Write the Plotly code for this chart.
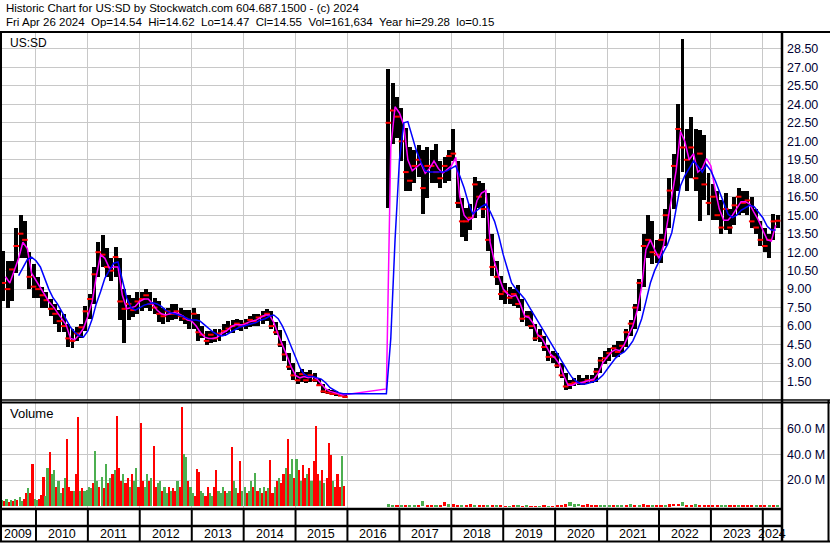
import pandas as pd
import plotly.graph_objects as go

# ---------------- data (monthly, Apr 2009 .. Apr 2024) ----------------
months = pd.date_range("2009-04-01", "2024-04-01", freq="MS")
N = None
high = [
    12.0, 12.1, 11.3, 11.3, 14.0, 15.0, 14.5, 12.0, 11.0,
    10.0, 9.2, 8.8, 8.2, 7.8, 7.3, 7.0, 6.2, 5.8, 5.9, 6.2, 7.6,
    8.6, 10.8, 12.8, 13.4, 12.3, 11.5, 12.4, 11.5, 9.0, 8.5, 8.3, 8.8,
    8.8, 9.0, 8.8, 8.3, 8.0, 7.5, 7.5, 7.8, 7.8, 7.5, 7.3, 7.3,
    7.5, 7.0, 6.0, 5.6, 5.6, 5.8, 5.8, 6.2, 6.4, 6.5, 6.6, 6.5,
    6.6, 6.8, 7.0, 7.0, 7.2, 7.4, 7.2, 6.3, 5.7, 4.8, 3.8, 3.0,
    2.3, 2.5, 2.3, 2.4, 2.2, 1.7, 1.3, 0.9, 0.8, 0.7, 0.6, 0.45,
    N, N, N, N, N, N, N, N, N, 26.9, 25.7, 24.6,
    23.7, 22.1, 20.5, 20.3, 20.7, 20.3, 20.5, 20.3, 20.8, 19.4, 19.7, 20.3,
    22.0, 19.4, 16.4, 15.6, 15.9, 18.1, 17.8, 17.6, 16.8, 13.5, 11.3, 10.1,
    9.5, 9.2, 9.0, 9.3, 8.2, 7.2, 7.2, 6.2, 5.8, 5.2, 4.5, 4.0,
    3.8, 3.0, 2.2, 1.6, 1.8, 2.0, 1.8, 2.0, 2.0, 2.6, 3.5, 4.0,
    4.2, 4.5, 4.8, 4.8, 5.8, 6.5, 7.8, 9.8, 13.5, 15.0, 14.5, 13.0,
    13.5, 15.5, 18.0, 20.0, 24.0, 29.3, 22.0, 23.0, 22.0, 21.9, 21.5, 18.4,
    17.5, 17.0, 16.2, 16.8, 15.5, 16.5, 17.2, 17.0, 17.0, 16.5, 15.5, 14.5,
    14.0, 13.5, 15.1, 15.0,
]
low = [
    8.5, 8.0, 7.5, 8.0, 10.3, 11.5, 11.5, 9.0, 8.3,
    8.3, 7.5, 7.5, 6.8, 6.2, 5.5, 5.5, 4.3, 4.2, 4.8, 5.0, 5.6,
    6.6, 7.8, 10.0, 10.8, 10.0, 9.7, 10.0, 6.5, 4.6, 6.5, 6.7, 7.0,
    7.2, 7.5, 7.2, 7.0, 6.3, 6.2, 6.3, 6.5, 6.6, 6.4, 6.2, 5.8,
    5.8, 4.8, 5.0, 4.5, 4.6, 4.7, 4.8, 5.2, 5.4, 5.4, 5.7, 5.6,
    5.8, 5.9, 6.0, 6.0, 6.2, 6.4, 5.8, 5.3, 4.3, 3.2, 2.4, 1.6,
    1.3, 1.5, 1.4, 1.5, 1.5, 1.1, 0.6, 0.5, 0.4, 0.35, 0.3, 0.2,
    N, N, N, N, N, N, N, N, N, 15.6, 20.8, 21.3,
    19.4, 17.0, 17.0, 17.6, 18.1, 15.1, 16.4, 17.6, 17.6, 17.2, 17.6, 17.8,
    19.4, 15.6, 13.2, 12.9, 13.8, 14.8, 15.6, 14.8, 12.1, 10.1, 9.3, 8.1,
    7.8, 7.8, 7.6, 7.5, 6.3, 6.0, 5.8, 4.8, 4.7, 4.0, 3.2, 3.0,
    2.6, 1.8, 0.8, 0.9, 1.1, 1.2, 1.2, 1.3, 1.4, 1.5, 2.2, 2.9,
    3.2, 3.5, 3.5, 3.8, 4.3, 5.2, 5.8, 7.2, 9.2, 11.5, 11.0, 11.1,
    11.1, 12.5, 14.0, 15.5, 17.0, 18.5, 17.0, 18.0, 17.0, 14.5, 16.2, 15.0,
    14.6, 14.6, 13.5, 13.8, 13.5, 14.2, 15.0, 15.2, 15.0, 14.0, 13.5, 12.5,
    12.0, 11.5, 13.0, 14.0,
]
close = [
    10.5, 9.5, 9.0, 10.6, 12.5, 13.5, 13.0, 10.0, 9.2,
    9.0, 8.5, 8.1, 7.4, 7.0, 6.4, 6.0, 5.0, 4.8, 5.4, 5.9, 7.2,
    8.2, 10.2, 12.0, 11.8, 10.8, 10.5, 11.6, 8.0, 7.4, 7.8, 7.3, 8.0,
    8.2, 8.5, 7.8, 7.5, 7.0, 6.8, 7.2, 7.0, 7.2, 6.8, 6.6, 6.5,
    7.0, 5.5, 5.3, 4.8, 5.3, 5.0, 5.4, 5.6, 5.8, 6.0, 6.2, 6.0,
    6.2, 6.5, 6.4, 6.7, 6.8, 7.0, 6.0, 5.5, 4.5, 3.7, 2.7, 2.0,
    1.6, 2.1, 1.6, 2.0, 1.6, 1.2, 0.7, 0.6, 0.5, 0.5, 0.35, 0.25,
    N, N, N, N, N, N, N, N, N, 22.5, 23.5, 23.0,
    21.0, 18.5, 17.8, 19.0, 19.5, 17.2, 19.0, 19.0, 18.5, 18.0, 19.0, 19.8,
    20.0, 16.0, 14.5, 14.5, 14.8, 17.5, 16.5, 15.5, 13.0, 10.8, 10.0, 8.6,
    8.8, 8.3, 8.6, 7.8, 6.6, 6.8, 6.0, 5.0, 5.2, 4.3, 3.5, 3.5,
    2.8, 2.0, 1.1, 1.3, 1.4, 1.4, 1.4, 1.6, 1.6, 2.3, 3.2, 3.4,
    3.8, 4.2, 3.9, 4.4, 5.5, 6.2, 7.5, 9.5, 12.5, 13.0, 12.0, 11.8,
    13.0, 15.0, 17.0, 19.0, 22.0, 20.5, 19.5, 20.5, 18.0, 20.0, 17.5, 16.0,
    16.5, 15.0, 14.0, 15.5, 14.0, 15.8, 16.5, 16.0, 16.2, 14.5, 14.0, 13.0,
    12.5, 13.0, 14.5, 14.55,
]
ma_short = [
    N, N, 10.0, 9.5, 10.5, 11.5, 12.8, 12.3, 10.3,
    9.7, 9.2, 8.6, 8.0, 7.6, 7.1, 6.6, 6.1, 5.0, 4.9, 5.3, 5.8,
    6.8, 8.0, 10.0, 11.8, 11.5, 10.7, 10.8, 10.8, 8.5, 7.4, 7.5, 7.6,
    8.0, 8.2, 8.2, 7.8, 7.3, 7.0, 6.9, 7.0, 7.1, 7.0, 6.8, 6.5,
    6.4, 6.0, 5.5, 5.1, 5.0, 5.0, 5.1, 5.4, 5.6, 5.9, 6.1, 6.1,
    6.1, 6.3, 6.4, 6.5, 6.7, 6.9, 6.9, 6.3, 5.3, 4.5, 3.6, 2.7,
    2.0, 1.8, 1.9, 1.8, 1.9, 1.7, 1.3, 0.9, 0.7, 0.6, 0.5, 0.4,
    N, N, N, N, N, N, N, N, N, 0.9, 20.5, 23.8,
    23.3, 22.3, 19.5, 18.6, 18.9, 19.2, 18.4, 18.8, 19.4, 18.8, 18.4, 18.7,
    19.0, 19.7, 16.5, 15.0, 14.6, 14.8, 16.2, 16.8, 17.0, 12.8, 11.2, 10.0,
    9.0, 8.6, 8.4, 8.5, 7.8, 6.8, 6.7, 6.2, 5.3, 5.0, 4.3, 3.7,
    3.4, 2.9, 2.0, 1.2, 1.2, 1.4, 1.4, 1.5, 1.6, 1.7, 2.2, 3.0,
    3.5, 3.9, 4.1, 4.0, 4.5, 5.3, 6.0, 7.3, 9.2, 12.2, 13.0, 12.2,
    11.5, 12.5, 14.5, 16.8, 18.6, 21.8, 21.0, 19.5, 20.0, 18.5, 18.8, 19.6,
    19.0, 17.0, 15.5, 14.6, 14.6, 15.0, 15.6, 16.1, 16.1, 15.9, 15.2, 14.6,
    13.8, 13.0, 12.9, 14.2,
]
ma_long = [
    N, N, N, N, N, 10.1, 10.8, 11.4, 11.6,
    11.3, 10.8, 9.9, 9.0, 8.3, 7.8, 7.2, 6.5, 5.9, 5.5, 5.2, 5.1,
    5.6, 6.6, 7.8, 8.8, 9.9, 10.5, 11.1, 11.2, 9.8, 8.3, 7.5, 7.3,
    7.5, 7.7, 7.8, 7.9, 7.8, 7.6, 7.3, 7.1, 7.0, 6.9, 6.8, 6.6,
    6.5, 6.5, 6.4, 6.1, 5.8, 5.5, 5.3, 5.2, 5.3, 5.5, 5.7, 5.9,
    6.0, 6.1, 6.2, 6.3, 6.5, 6.6, 6.8, 6.9, 6.6, 6.0, 5.2, 4.3,
    3.4, 2.6, 2.1, 1.9, 1.9, 1.8, 1.7, 1.4, 1.0, 0.8, 0.6, 0.5,
    N, N, N, N, N, N, N, N, N, 0.5, 5.0, 13.0,
    19.5, 22.5, 22.6, 21.3, 20.2, 19.3, 18.6, 18.5, 18.5, 18.5, 18.5, 18.6,
    18.8, 19.0, 18.2, 17.2, 16.0, 15.1, 15.4, 15.7, 15.9, 15.3, 14.5, 13.3,
    11.8, 10.5, 9.5, 9.0, 8.6, 8.2, 7.6, 7.0, 6.4, 5.8, 5.2, 4.7,
    4.1, 3.5, 2.9, 2.3, 1.8, 1.5, 1.3, 1.3, 1.4, 1.5, 1.7, 2.0,
    2.5, 3.0, 3.4, 3.7, 3.9, 4.3, 4.8, 5.6, 6.6, 8.0, 9.5, 10.5,
    11.3, 12.0, 12.6, 13.6, 15.5, 17.4, 18.2, 18.8, 19.4, 19.0, 18.5, 19.1,
    18.6, 17.8, 17.0, 16.0, 15.1, 14.8, 15.0, 15.4, 15.6, 15.8, 15.7, 15.3,
    14.8, 14.1, 13.8, 13.8,
]

# volume, millions: half-month bars Apr 2009 .. Dec 2015 (old listing)
vol_old = [
    5, 14, 5, 4, 6, 3, 5, 4, 6, 5, 7, 4, 6, 10, 14, 10, 33, 6,
    5, 6, 9, 23, 8, 30, 42, 25, 28, 15, 20, 10, 14, 22, 52, 15, 12, 12, 25, 69, 12, 14, 12, 13,
    15, 14, 18, 43, 20, 15, 23, 14, 33, 18, 22, 25, 28, 70, 30, 20, 25, 18, 22, 15, 25, 20, 30, 15,
    65, 20, 15, 25, 20, 22, 47, 15, 18, 20, 12, 15, 10, 15, 12, 14, 12, 20, 15, 77, 41, 38, 20, 15,
    10, 8, 29, 27, 12, 10, 8, 15, 10, 8, 15, 28, 12, 10, 15, 12, 10, 12, 46, 20, 14, 10, 35, 12,
    15, 10, 12, 20, 15, 26, 12, 14, 10, 15, 12, 14, 36, 10, 15, 20, 22, 18, 25, 30, 52, 25, 37, 22,
    37, 28, 20, 32, 22, 25, 30, 20, 35, 62, 25, 20, 28, 18, 22, 49, 40, 20, 15, 25, 15, 39, 16,
]
vol_old_dir = (
    "gggrgrgrgrggrrgrrg"
    "grrrggrggrggrgrrrgrrgrgg"
    "ggrggrgrgrgrgrrrgrrgrggr"
    "rrggrgrrggrggrgrrgrrggrg"
    "grrrggrrggrrgggrggrggrrg"
    "grggrgrgrgrgrrgrgrrgrggr"
    "grgrrgrgrrrgrgrrrgrrrgr"
)
# volume, millions: monthly bars Oct 2016 .. Apr 2024 (new listing)
vol_new = [
    1.5, 0.5, 1.2,
    0.6, 0.5, 0.6, 0.8, 0.5, 4.0, 0.5, 0.4, 0.5, 0.6, 3.0, 1.5,
    1.5, 1.0, 1.2, 0.8, 1.5, 0.5, 1.0, 0.8, 0.6, 0.8, 0.6, 0.4,
    0.2, 0.2, 0.3, 0.8, 0.2, 0.8, 0.2, 0.2, 0.2, 0.3, 0.2, 0.2,
    0.3, 0.4, 1.5, 3.5, 1.5, 2.0, 0.8, 1.5, 1.0, 0.8, 1.2, 0.6,
    0.8, 1.2, 0.8, 1.0, 1.2, 1.5, 0.8, 1.2, 1.5, 1.2, 1.0, 0.8,
    1.0, 1.2, 1.5, 1.8, 2.0, 3.5, 1.2, 1.0, 1.5, 1.2, 0.8, 1.0,
    0.8, 1.0, 0.8, 1.2, 0.6, 0.8, 1.2, 0.5, 0.6, 0.8, 1.0, 0.6,
    0.8, 1.0, 0.6, 0.5,
]
vol_new_dir = (
    "ggr"
    "grggrgrrgrrg"
    "rrgrrgrrgrgr"
    "rgrgrgrrgrgr"
    "rrrgggrrrrgg"
    "grggrgrgrrgr"
    "rgrrrgrrgrrr"
    "rrggrrgrrrgr"
    "rgrg"
)

price_tick_labels = ["1.50", "3.00", "4.50", "6.00", "7.50", "9.00", "10.50", "12.00",
                     "13.50", "15.00", "16.50", "18.00", "19.50", "21.00", "22.50",
                     "24.00", "25.50", "27.00", "28.50"]
vol_tick_vals = [20, 40, 60]
vol_tick_labels = ["20.0 M", "40.0 M", "60.0 M"]
years = [str(y) for y in range(2009, 2025)]

header1 = "Historic Chart for US:SD by Stockwatch.com 604.687.1500 - (c) 2024"
header2 = ("Fri Apr 26 2024\u00a0\u00a0Op=14.54\u00a0\u00a0Hi=14.62\u00a0\u00a0Lo=14.47\u00a0\u00a0"
           "Cl=14.55\u00a0\u00a0Vol=161,634\u00a0\u00a0Year hi=29.28\u00a0\u00a0lo=0.15")

# ---------------- figure ----------------
W, H = 830, 543
ML, MR, MT, MB = 1, 49, 33, 35
PW, PH = W - ML - MR, H - MT - MB
def px2x(px):
    return (px - ML) / PW
def px2y(py):
    return (H - MB - py) / PH

x_start, x_end = pd.Timestamp("2009-04-30"), pd.Timestamp("2024-05-08")
DAY = 86400000
mid = months + pd.Timedelta(days=14)
rng = [h - l if h is not None else None for h, l in zip(high, low)]

GREEN, RED = "#4caf50", "#ff0000"
FONT = "Arial"
LBL = "#000033"
GRID = "#c8c8c8"

fig = go.Figure()
fig.add_trace(go.Bar(x=mid, y=rng, base=low, marker=dict(color="black", line=dict(width=0)),
                     width=28 * DAY, xaxis="x", yaxis="y", hoverinfo="skip"))
fig.add_trace(go.Scatter(x=mid, y=close, mode="markers", xaxis="x", yaxis="y",
                         marker=dict(symbol="line-ew", size=4, line=dict(color=RED, width=2)),
                         hoverinfo="skip"))
fig.add_trace(go.Scatter(x=months, y=ma_short, mode="lines", connectgaps=True,
                         line=dict(color="#ff00ff", width=1.5), xaxis="x", yaxis="y"))
fig.add_trace(go.Scatter(x=months, y=ma_long, mode="lines", connectgaps=True,
                         line=dict(color="#0000ff", width=1.5), xaxis="x", yaxis="y"))

vol_old_x = [months[k // 2] + pd.Timedelta(days=7 + 15 * (k % 2)) for k in range(len(vol_old))]
fig.add_trace(go.Bar(x=vol_old_x, y=vol_old, width=15 * DAY, xaxis="x2", yaxis="y2",
                     marker=dict(color=[GREEN if c == "g" else RED for c in vol_old_dir],
                                 line=dict(width=0))))
new_start = list(months).index(pd.Timestamp("2016-10-01"))
vol_new_x = [mid[new_start + j] for j in range(len(vol_new))]
fig.add_trace(go.Bar(x=vol_new_x, y=vol_new, width=22 * DAY, xaxis="x2", yaxis="y2",
                     marker=dict(color=[GREEN if c == "g" else RED for c in vol_new_dir],
                                 line=dict(width=0))))

xcommon = dict(range=[x_start, x_end], showticklabels=False, showgrid=True, gridcolor=GRID,
               gridwidth=1, dtick="M12", tick0="2010-01-01", ticks="", zeroline=False,
               showline=False, fixedrange=True)
fig.update_layout(
    width=W, height=H, margin=dict(l=ML, r=MR, t=MT, b=MB),
    paper_bgcolor="white", plot_bgcolor="white", showlegend=False, barmode="overlay",
    bargap=0,
    xaxis=dict(domain=[0, 1], anchor="y", **xcommon),
    xaxis2=dict(domain=[0, 1], anchor="y2", matches="x", **xcommon),
    yaxis=dict(domain=[px2y(400), 1], range=[0, 29.79], side="right",
               tickvals=[float(s) for s in price_tick_labels], ticktext=price_tick_labels,
               showgrid=True, gridcolor=GRID, zeroline=False, ticks="",
               tickfont=dict(family=FONT, size=12.5, color=LBL), ticklabelstandoff=5,
               fixedrange=True),
    yaxis2=dict(domain=[0, px2y(402.5)], range=[-1.7, 80.2], side="right",
                tickvals=vol_tick_vals, ticktext=vol_tick_labels,
                showgrid=True, gridcolor=GRID, zeroline=False, ticks="",
                tickfont=dict(family=FONT, size=12.5, color=LBL), ticklabelstandoff=5,
                fixedrange=True),
)

ann = [
    dict(text=header1, x=px2x(4), y=px2y(7.5), xanchor="left", yanchor="middle",
         font=dict(family=FONT, size=11.5, color="black")),
    dict(text=header2, x=px2x(4), y=px2y(21.5), xanchor="left", yanchor="middle",
         font=dict(family=FONT, size=11.5, color="black")),
    dict(text="US:SD", x=px2x(8), y=px2y(43), xanchor="left", yanchor="middle",
         font=dict(family=FONT, size=12, color="black")),
    dict(text="Volume", x=px2x(8), y=px2y(413), xanchor="left", yanchor="middle",
         font=dict(family=FONT, size=13, color="black")),
]
for yr in years:
    a = max(pd.Timestamp(f"{yr}-01-01"), x_start)
    b = min(pd.Timestamp(f"{int(yr) + 1}-01-01"), x_end)
    ann.append(dict(text=yr, x=a + (b - a) / 2, xref="x", y=px2y(534), yanchor="middle",
                    xanchor="center", showarrow=False,
                    font=dict(family=FONT, size=12.5, color="black")))
for a_ in ann:
    a_.setdefault("xref", "paper")
    a_["yref"] = "paper"
    a_["showarrow"] = False
fig.update_layout(annotations=ann)

def hline(py, x0, x1, w):
    return dict(type="line", xref="paper", yref="paper", x0=px2x(x0), x1=px2x(x1),
                y0=px2y(py), y1=px2y(py), line=dict(color="black", width=w))
def vline(px, y0, y1, w):
    return dict(type="line", xref="paper", yref="paper", x0=px2x(px), x1=px2x(px),
                y0=px2y(y0), y1=px2y(y1), line=dict(color="black", width=w))

shapes = [
    hline(32, 0, 830, 2),
    vline(1, 32, 542, 2),
    hline(400, 0, 830, 1.5),
    hline(402.5, 0, 830, 2),
    hline(509, 0, 782, 2.5),
    hline(526, 0, 782, 2.5),
    hline(541.5, 0, 830, 2),
    vline(782, 33, 541.5, 2.5),
    vline(828.5, 400, 541.5, 2),
]
for yr in years[1:]:
    shapes.append(dict(type="line", xref="x", yref="paper", x0=f"{yr}-01-01", x1=f"{yr}-01-01",
                       y0=px2y(509), y1=px2y(541.5), line=dict(color="black", width=2)))
fig.update_layout(shapes=shapes)

fig.write_html("out.html", config={"displayModeBar": False},
               post_script="document.body.style.margin='0';document.body.style.overflow='hidden';")
